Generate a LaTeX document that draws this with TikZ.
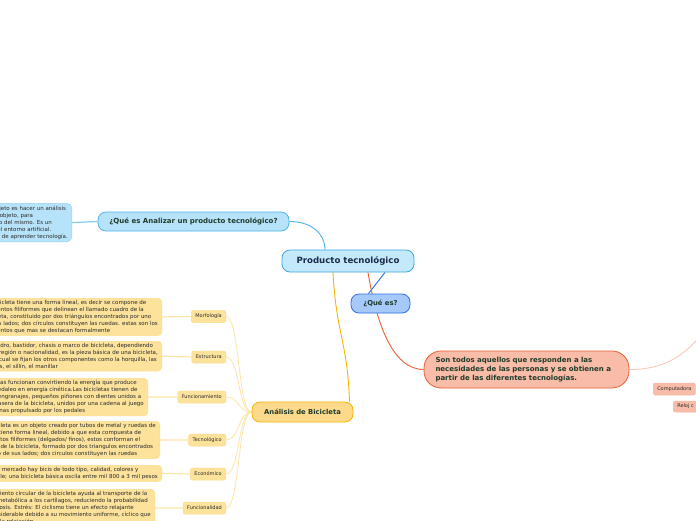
\documentclass[tikz,border=0pt]{standalone}
\usepackage{fontspec}
\setmainfont{DejaVu Sans}
\usetikzlibrary{calc,backgrounds}

\definecolor{azulfondo}{HTML}{C4E9FB}
\definecolor{azulborde}{HTML}{3AA6E0}
\definecolor{celeste}{HTML}{B7E3FA}
\definecolor{celesteborde}{HTML}{4DB5EA}
\definecolor{azulque}{HTML}{A5C9F9}
\definecolor{azulqueborde}{HTML}{2E6FE6}
\definecolor{salmon}{HTML}{F8BCA8}
\definecolor{salmonborde}{HTML}{EC5F36}
\definecolor{salmonclaro}{HTML}{F8C4B2}
\definecolor{amarillo}{HTML}{FDD98C}
\definecolor{amarilloborde}{HTML}{F7B500}
\definecolor{amarilloclaro}{HTML}{FDE29C}
\definecolor{amarillolinea}{HTML}{FDE5A8}
\definecolor{textoazul}{HTML}{1B2A4A}
\definecolor{textoverde}{HTML}{1E3B2A}
\definecolor{textogris}{HTML}{2A2A2A}

\begin{document}
\begin{tikzpicture}
[
	x=1pt,
	y=-1pt,
	raiz/.style={draw=azulborde,fill=azulfondo,rounded corners=8pt,line width=0.8pt,inner sep=0pt,minimum height=22pt,font=\bfseries\fontsize{8.6}{10}\selectfont,text=textoazul},
	rama/.style={rounded corners=8pt,line width=0.8pt,inner sep=0pt,font=\bfseries\fontsize{7}{8.6}\selectfont,text=textoverde},
	hoja/.style={draw=amarilloborde!45,fill=amarilloclaro,rounded corners=2pt,line width=0.5pt,inner xsep=4pt,inner ysep=0pt,minimum height=12pt,font=\fontsize{5}{6}\selectfont,text=textogris},
	bloque/.style={draw=amarilloborde!45,fill=amarilloclaro,rounded corners=4pt,line width=0.5pt,inner xsep=4pt,inner ysep=2pt,align=left,anchor=north east,font=\fontsize{5.5}{7}\selectfont,text=textogris},
	ejemplo/.style={draw=salmonborde!45,fill=salmon,rounded corners=2pt,line width=0.5pt,inner xsep=4pt,inner ysep=0pt,minimum height=12pt,anchor=west,font=\fontsize{5}{6}\selectfont,text=textogris}
]

	\useasboundingbox (0,0) rectangle (696,520);
	\begin{pgfonlayer}{background}
		\fill[white] (0,0) rectangle (696,520);
	\end{pgfonlayer}

	% centro
	\node[raiz,minimum width=132pt] (producto) at (348,261) {Producto tecnológico};

	% ramas principales
	\node[rama,draw=celesteborde,fill=celeste,minimum width=191pt,minimum height=19pt] (analizar) at (193.5,221.5) {¿Qué es Analizar un producto tecnológico?};
	\node[rama,draw=azulqueborde,fill=azulque,minimum width=59pt,minimum height=19pt,font=\bfseries\fontsize{6.8}{8}\selectfont] (quees) at (380.5,303.5) {¿Qué es?};
	\node[rama,draw=amarilloborde,fill=amarillo,minimum width=101pt,minimum height=20pt,font=\bfseries\fontsize{6.8}{8}\selectfont] (analisis) at (302.5,412) {Análisis de Bicicleta};
	\node[rama,draw=salmonborde,fill=salmon,rounded corners=17pt,minimum width=205pt,minimum height=37pt,align=left,text width=182pt] (sontodos) at (526.5,369.5) {Son todos aquellos que responden a las\\necesidades de las personas y se obtienen a\\partir de las diferentes tecnologías.};

	% texto de analizar
	\node[bloque,draw=celesteborde!60,fill=celeste,rounded corners=5pt,inner ysep=2.5pt] (objetivo) at (72,203) {El objetivo de analizar un objeto es hacer un análisis\\saber las características del objeto, para\\y entender el funcionamiento del mismo. Es un\\método para ver y conocer el entorno artificial.\\Además es una buena forma de aprender tecnología.};

	% aspectos de la bicicleta
	\node[hoja,anchor=east] (morfologia) at (226,316.5) {Morfología};
	\node[hoja,anchor=east] (estructura) at (226,357) {Estructura};
	\node[hoja,anchor=east] (funcionamiento) at (226,397) {Funcionamiento};
	\node[hoja,anchor=east] (tecnologico) at (226,440) {Tecnológico};
	\node[hoja,anchor=east] (economico) at (226,474) {Económico};
	\node[hoja,anchor=east] (funcionalidad) at (226,508) {Funcionalidad};

	\node[bloque] (morfologiatxt) at (162,298) {La bicicleta tiene una forma lineal, es decir se compone de\\elementos filiformes que delinean el llamado cuadro de la\\bicicleta, constituido por dos triángulos encontrados por uno\\de sus lados; dos círculos constituyen las ruedas. estas son los\\elementos que mas se destacan formalmente};
	\node[bloque] (estructuratxt) at (162,341) {El cuadro, bastidor, chasis o marco de bicicleta, dependiendo\\de la región o nacionalidad, es la pieza básica de una bicicleta,\\en la cual se fijan los otros componentes como la horquilla, las\\ruedas, el sillín, el manillar};
	\node[bloque] (funcionamientotxt) at (148,378) {Las bicicletas funcionan convirtiendo la energía que produce\\desde el pedaleo en energía cinética.Las bicicletas tienen de\\juegos de engranajes, pequeños piñones con dientes unidos a\\la rueda trasera de la bicicleta, unidos por una cadena al juego\\de las coronas propulsado por los pedales};
	\node[bloque] (tecnologicotxt) at (160,421) {La bicicleta es un objeto creado por tubos de metal y ruedas de\\goma, tiene forma lineal, debido a que esta compuesta de\\elementos filiformes (delgados/ finos), estos conforman el\\cuadro de la bicicleta, formado por dos triangulos encontrados\\por uno de sus lados; dos circulos constituyen las ruedas};
	\node[bloque] (economicotxt) at (162,465) {En el mercado hay bicis de todo tipo, calidad, colores y\\detalle; una bicicleta básica oscila entre mil 800 a 3 mil pesos};
	\node[bloque] (funcionalidadtxt) at (155,489) {El movimiento circular de la bicicleta ayuda al transporte de la\\energía metabólica a los cartílagos, reduciendo la probabilidad\\de la artrosis. Estrés: El ciclismo tiene un efecto relajante\\muy considerable debido a su movimiento uniforme, cíclico que\\favorece la relajación};

	% ejemplos (a la derecha)
	\coordinate (ejemplos) at (712,322);
	\node[ejemplo] (computadora) at (653,389) {Computadora\hspace{6pt}};
	\node[ejemplo,minimum height=11pt] (reloj) at (673,406.5) {Reloj c\hspace{6pt}};

	% conectores
	\begin{pgfonlayer}{background}
		\draw[celesteborde,line width=0.9pt] (analizar.east) .. controls +(22,0) and +(0,-16) .. ($(producto.north)+(-23,0)$);
		\draw[celesteborde!70,line width=1.2pt] (objetivo.east) -- (analizar.west);
		\draw[azulqueborde,line width=0.9pt] ($(producto.south)+(37,0)$) -- ($(quees.north)+(-12,0)$);
		\draw[salmonborde,line width=0.9pt] ($(producto.south)+(20,0)$) .. controls +(8,48) and +(-32,0) .. (sontodos.west);
		\draw[amarilloborde,line width=0.9pt] ($(producto.south)+(-15,0)$) .. controls +(3,60) and +(-2,-60) .. ($(analisis.north)+(47,0)$);
		\draw[salmonclaro,line width=0.8pt] (sontodos.east) .. controls +(42,0) and +(-22,28) .. (ejemplos);
		\foreach \n in {morfologia,estructura,funcionamiento,tecnologico,economico,funcionalidad}
		{
			\draw[amarillolinea,line width=0.8pt] (analisis.west) .. controls +(-14,0) and +(14,0) .. (\n.east);
			\draw[amarillolinea,line width=1.2pt] (\n.west) -- (\n txt.east);
		}
	\end{pgfonlayer}

\end{tikzpicture}
\end{document}
